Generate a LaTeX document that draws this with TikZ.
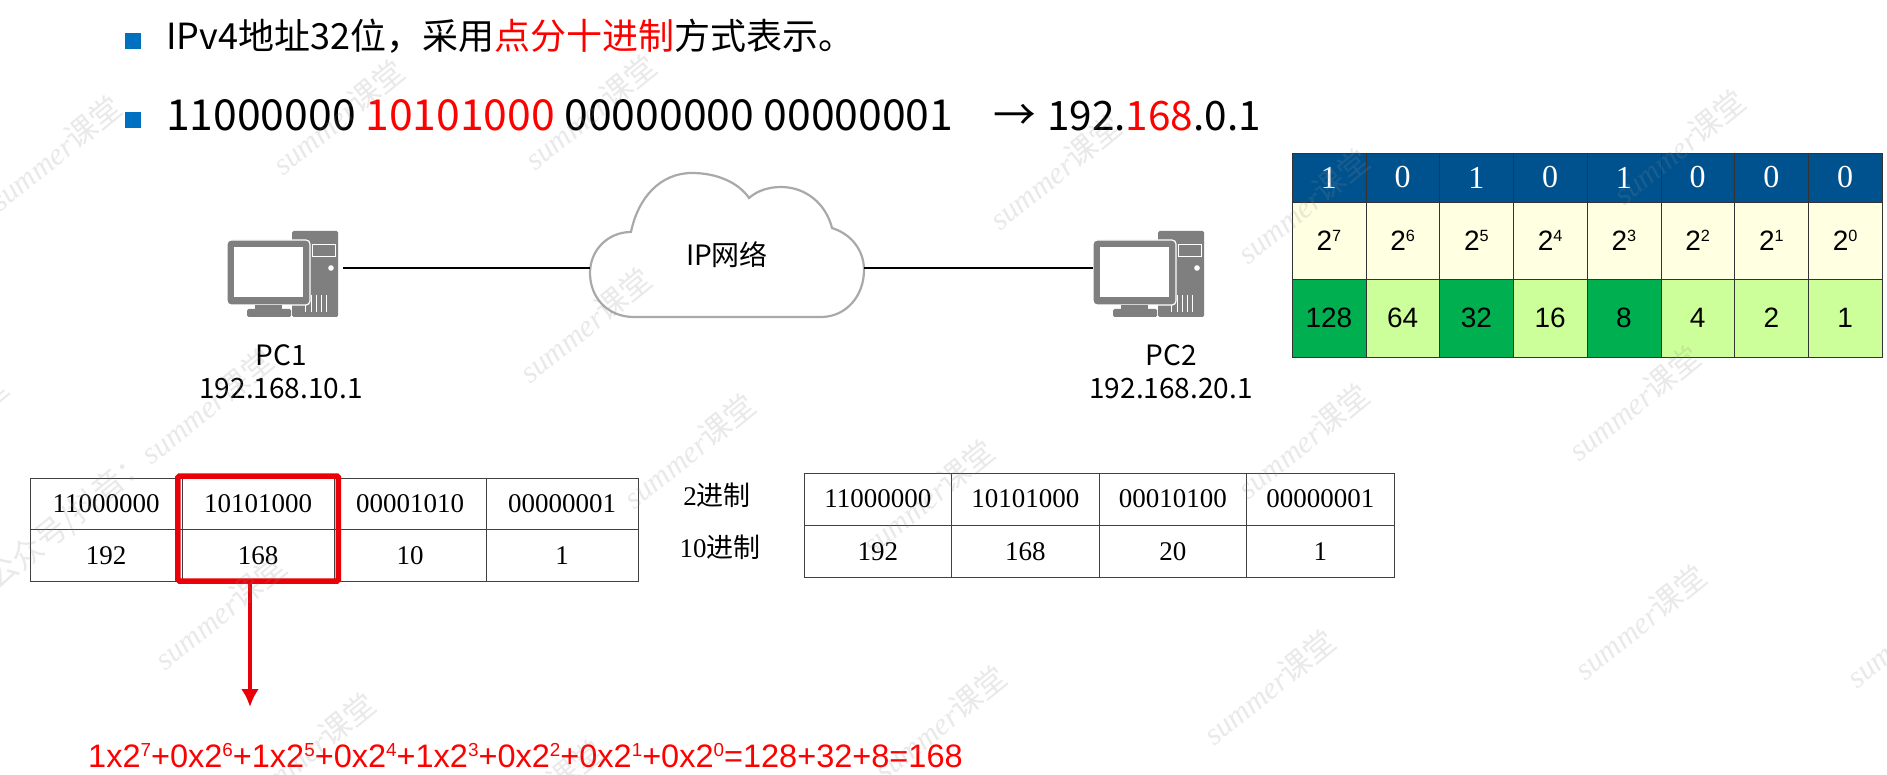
\documentclass[tikz,border=0pt]{standalone}
\usepackage{fontspec}
\setmainfont{Noto Sans CJK SC}
\newfontfamily\serifnum{Liberation Serif}
\newfontfamily\arialnum{Liberation Sans}
\usetikzlibrary{positioning,calc,arrows.meta}
\newcommand{\pw}[1]{\raisebox{.32em}{\scalebox{.58}{#1}}}
\definecolor{bitblue}{HTML}{00528F}
\definecolor{powcream}{HTML}{FFFFE1}
\definecolor{valdark}{HTML}{00B050}
\definecolor{vallight}{HTML}{CCFF99}
\definecolor{bulletblue}{HTML}{0070C0}
\definecolor{boxred}{HTML}{EA0008}
\definecolor{pcgray}{HTML}{7F7F7F}
\definecolor{cloudgray}{HTML}{A9A9A9}
\tikzstyle{headline}=[anchor=base west,inner sep=0pt]
\tikzstyle{bullet}=[fill=bulletblue,minimum size=16pt,inner sep=0pt]
\tikzstyle{iplabel}=[inner sep=0pt,align=center,font=\fontsize{28}{33}\selectfont]
\tikzstyle{ipcell}=[draw=black!75,line width=.9pt,minimum width=152pt,minimum height=51.5pt,inner sep=0pt,outer sep=0pt,font=\serifnum\fontsize{27}{32}\selectfont]
\tikzstyle{ipcellb}=[ipcell,minimum width=147.5pt,minimum height=52.3pt]
\tikzstyle{radix}=[inner sep=0pt,font=\fontsize{27}{32}\selectfont]
\tikzstyle{bitcell}=[draw=black!80,fill=bitblue,text=white,minimum width=73.75pt,minimum height=49pt,inner sep=0pt,outer sep=0pt,font=\serifnum\fontsize{32}{36}\selectfont]
\tikzstyle{powcell}=[bitcell,fill=powcream,text=black,minimum height=77pt,font=\arialnum\fontsize{28}{33}\selectfont]
\tikzstyle{valcell}=[powcell,fill=vallight,minimum height=78pt]
\tikzstyle{valon}=[valcell,fill=valdark]
\tikzstyle{wmark}=[inner sep=0pt,rotate=39,text=black!45,text opacity=.19,font=\fontsize{31}{36}\selectfont]
\tikzset{
  pcicon/.pic={
    \fill[pcgray,rounded corners=1.5pt] (65,0) rectangle (111,86);
    \draw[white,line width=1pt,fill=pcgray] (85,14) rectangle (108,26);
    \fill[white] (104,37) circle (2.8);
    \draw[white,line width=1pt] (78,64) -- (78,81) (84,64) -- (84,81) (89,64) -- (89,81) (94,64) -- (94,81) (99,64) -- (99,81);
    \draw[white,line width=1.2pt,fill=pcgray,rounded corners=4pt] (0,9) rectangle (83,74);
    \fill[pcgray] (28,74) rectangle (55,79);
    \fill[pcgray,rounded corners=1.5pt] (20,78) rectangle (64,86);
    \fill[white] (7,16) rectangle (76,66);
    \coordinate (-east) at (116,37);
    \coordinate (-west) at (0,37);
  }
}
\begin{document}
\begin{tikzpicture}[x=1pt,y=-1pt,node distance=0pt]
\useasboundingbox[fill=white] (0,0) rectangle (1887,775);
% title lines
\node (b1) [bullet] at (132.5,41) {};
\node (b2) [bullet] at (132.5,120.5) {};
\node (title) [headline,font=\fontsize{36}{40}\selectfont] at (166,50) {IPv4地址32位，采用\textcolor{red}{点分十进制}方式表示。};
\node (binary) [headline,font=\fontsize{42.7}{48}\selectfont] at (166,131) {11000000 \textcolor{red}{10101000} 00000000 00000001\hspace{.95em}→\hspace{.25em}{\fontsize{40.5}{46}\selectfont 192.\textcolor{red}{168}.0.1}};
% network
\draw[cloudgray,line width=2.2pt,fill=white] (634,317) .. controls (607,317) and (590,297) .. (590,273)
  .. controls (590,250) and (608,232) .. (631,232) .. controls (638,198) and (660,173) .. (692,173)
  .. controls (716,173) and (738,182) .. (749,198) .. controls (757,191) and (768,187) .. (781,187)
  .. controls (806,187) and (826,204) .. (832,228) .. controls (851,234) and (864,250) .. (864,270)
  .. controls (864,296) and (846,317) .. (821,317) -- cycle;
\coordinate (cloudl) at (590,268);
\coordinate (cloudr) at (864,268);
\node (net) [iplabel] at (727,255) {IP网络};
\pic (pc1) at (227,231) {pcicon};
\pic (pc2) at (1093,231) {pcicon};
\node (pc1name) [iplabel] at (281,372) {PC1\\192.168.10.1};
\node (pc2name) [iplabel] at (1171,372) {PC2\\192.168.20.1};
\path[-,line width=1.2pt]
	(pc1-east) edge (cloudl)
	(cloudr) edge (pc2-west);
% left table
\node (a1) [ipcell] at (106,503.75) {11000000};
\node (a2) [right=of a1,ipcell] {10101000};
\node (a3) [right=of a2,ipcell] {00001010};
\node (a4) [right=of a3,ipcell] {00000001};
\node (d1) [below=of a1,ipcell] {192};
\node (d2) [right=of d1,ipcell] {168};
\node (d3) [right=of d2,ipcell] {10};
\node (d4) [right=of d3,ipcell] {1};
\node (redbox) [draw=boxred,line width=5.5pt,rounded corners=1.5pt,minimum width=160.5pt,minimum height=105pt,outer sep=0pt] at (258.2,528.5) {};
\coordinate (tip) at (250,707);
\draw[boxred,line width=4.5pt,-{Latex[length=18pt,width=18pt]}] (tip |- redbox.south) -- (tip);
\node (sum) [headline,text=red,font=\arialnum\fontsize{32.5}{38}\selectfont] at (88,767) {1x2\pw{7}+0x2\pw{6}+1x2\pw{5}+0x2\pw{4}+1x2\pw{3}+0x2\pw{2}+0x2\pw{1}+0x2\pw{0}=128+32+8=168};
% middle labels
\node (bin) [radix] at (717,495) {{\serifnum 2}进制};
\node (dec) [radix] at (720,547) {{\serifnum 10}进制};
% second table
\node (e1) [ipcellb] at (877.75,499.15) {11000000};
\node (e2) [right=of e1,ipcellb] {10101000};
\node (e3) [right=of e2,ipcellb] {00010100};
\node (e4) [right=of e3,ipcellb] {00000001};
\node (f1) [below=of e1,ipcellb] {192};
\node (f2) [right=of f1,ipcellb] {168};
\node (f3) [right=of f2,ipcellb] {20};
\node (f4) [right=of f3,ipcellb] {1};
% weights table
\node (w1) [bitcell] at (1328.875,177.5) {1};
\node (w2) [right=of w1,bitcell] {0};
\node (w3) [right=of w2,bitcell] {1};
\node (w4) [right=of w3,bitcell] {0};
\node (w5) [right=of w4,bitcell] {1};
\node (w6) [right=of w5,bitcell] {0};
\node (w7) [right=of w6,bitcell] {0};
\node (w8) [right=of w7,bitcell] {0};
\node (p1) [below=of w1,powcell] {2\pw{7}};
\node (p2) [right=of p1,powcell] {2\pw{6}};
\node (p3) [right=of p2,powcell] {2\pw{5}};
\node (p4) [right=of p3,powcell] {2\pw{4}};
\node (p5) [right=of p4,powcell] {2\pw{3}};
\node (p6) [right=of p5,powcell] {2\pw{2}};
\node (p7) [right=of p6,powcell] {2\pw{1}};
\node (p8) [right=of p7,powcell] {2\pw{0}};
\node (v1) [below=of p1,valon] {128};
\node (v2) [right=of v1,valcell] {64};
\node (v3) [right=of v2,valon] {32};
\node (v4) [right=of v3,valcell] {16};
\node (v5) [right=of v4,valon] {8};
\node (v6) [right=of v5,valcell] {4};
\node (v7) [right=of v6,valcell] {2};
\node (v8) [right=of v7,valcell] {1};
% watermark
\foreach \wx/\wy [count=\wi] in {55/153,338/117,590/112,585/325,689/451,-58/433,1055/172,1303/206,1679/147,1634/403,1303/441,220/612,309/750,537/797,940/723,1269/687,1640/622,1912/630,928/497}
  \node (wm\wi) [wmark] at (\wx,\wy) {{\serifnum\itshape summer}课堂};
\node (wmlong) [wmark,anchor=east] at (270,357) {公众号/抖音：{\serifnum\itshape summer}课堂};
\end{tikzpicture}
\end{document}
